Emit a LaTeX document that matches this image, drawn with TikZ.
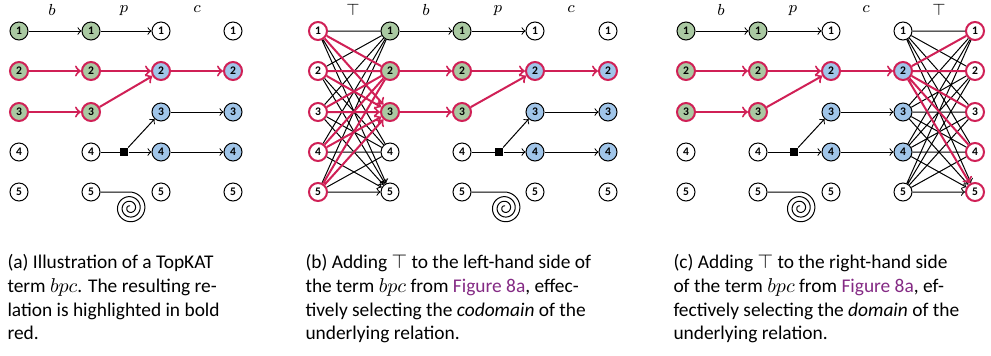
\documentclass[tikz,border=0pt]{standalone}
\usepackage{fontspec}
\setmainfont{Carlito}
\usepackage{xcolor}
\definecolor{bgreen}{RGB}{170,201,162}
\definecolor{cblue}{RGB}{160,197,233}
\definecolor{hired}{RGB}{208,32,86}
\definecolor{linkpurple}{RGB}{132,42,132}
\tikzset{every picture/.style={line width=0.5pt}}
\tikzset{
  st/.style={circle, draw, fill=white, line width=0.5pt, minimum size=9pt, inner sep=0pt, font=\fontsize{5.8}{6}\selectfont\bfseries},
  gst/.style={st, fill=bgreen},
  bst/.style={st, fill=cblue},
  hl/.style={draw=hired, line width=1pt},
  rel/.style={->, line width=0.5pt},
  hrel/.style={->, draw=hired, line width=1pt},
  sq/.style={rectangle, fill=black, minimum size=4pt, inner sep=0pt},
  lbl/.style={inner sep=0pt, font=\fontsize{8}{9}\selectfont},
  captext/.style={anchor=north west, align=left, inner sep=0pt, font=\fontsize{9.7}{11.85}\selectfont}
}
\begin{document}
\begin{tikzpicture}[x=0.5pt,y=0.5pt,yscale=-1,xscale=1]
\useasboundingbox (0,0) rectangle (991,355);

%%%%%%%% (a) %%%%%%%%
% Text Node
\draw (52,10) node [lbl] (a-lb) {$b$};
\draw (124,11) node [lbl] (a-lp) {$p$};
\draw (197,9) node [lbl] (a-lc) {$c$};
%Shape: Circle
\node [gst] (a0-1) at (19,31) {1};
\node [gst,hl] (a0-2) at (19,71) {2};
\node [gst,hl] (a0-3) at (19,112) {3};
\node [st] (a0-4) at (19,152) {4};
\node [st] (a0-5) at (19,192) {5};
%Shape: Circle
\node [gst] (a1-1) at (91,31) {1};
\node [gst,hl] (a1-2) at (91,71) {2};
\node [gst,hl] (a1-3) at (91,112) {3};
\node [st] (a1-4) at (91,152) {4};
\node [st] (a1-5) at (91,192) {5};
%Shape: Circle
\node [st] (a2-1) at (161,31) {1};
\node [bst,hl] (a2-2) at (161,71) {2};
\node [bst] (a2-3) at (161,112) {3};
\node [bst] (a2-4) at (161,152) {4};
\node [st] (a2-5) at (161,192) {5};
%Shape: Circle
\node [st] (a3-1) at (233,31) {1};
\node [bst,hl] (a3-2) at (233,71) {2};
\node [bst] (a3-3) at (233,112) {3};
\node [bst] (a3-4) at (233,152) {4};
\node [st] (a3-5) at (233,192) {5};
%Straight Lines
\draw [rel] (a0-1) -- (a1-1);
\draw [hrel] (a0-2) -- (a1-2);
\draw [hrel] (a0-3) -- (a1-3);
\draw [rel] (a1-1) -- (a2-1);
\draw [hrel] (a1-2) -- (a2-2);
\draw [hrel] (a1-3) -- (a2-2);
%Square
\node [sq] (a-sq) at (124,152) {};
\draw (a1-4) -- (a-sq);
\draw [rel] (a-sq) -- (a2-3);
\draw [rel] (a-sq) -- (a2-4);
%Spiral
\coordinate (a-sp) at (130,192);
\draw (a1-5) -- (a-sp) -- plot [domain=0:1080, samples=160, smooth] ({130+(16-14*\x/1080)*sin(\x)},{208-(16-14*\x/1080)*cos(\x)});
%Straight Lines
\draw [hrel] (a2-2) -- (a3-2);
\draw [rel] (a2-3) -- (a3-3);
\draw [rel] (a2-4) -- (a3-4);

%%%%%%%% (b) %%%%%%%%
% Text Node
\draw (353,10) node [lbl] (b-lt) {$\top$};
\draw (426,10) node [lbl] (b-lb) {$b$};
\draw (498,11) node [lbl] (b-lp) {$p$};
\draw (571,9) node [lbl] (b-lc) {$c$};
%Shape: Circle
\node [st,hl] (b0-1) at (318,31) {1};
\node [st,hl] (b0-2) at (318,71) {2};
\node [st,hl] (b0-3) at (318,112) {3};
\node [st,hl] (b0-4) at (318,152) {4};
\node [st,hl] (b0-5) at (318,192) {5};
%Shape: Circle
\node [gst] (b1-1) at (390,31) {1};
\node [gst,hl] (b1-2) at (390,71) {2};
\node [gst,hl] (b1-3) at (390,112) {3};
\node [st] (b1-4) at (390,152) {4};
\node [st] (b1-5) at (390,192) {5};
%Shape: Circle
\node [gst] (b2-1) at (462,31) {1};
\node [gst,hl] (b2-2) at (462,71) {2};
\node [gst,hl] (b2-3) at (462,112) {3};
\node [st] (b2-4) at (462,152) {4};
\node [st] (b2-5) at (462,192) {5};
%Shape: Circle
\node [st] (b3-1) at (535,31) {1};
\node [bst,hl] (b3-2) at (535,71) {2};
\node [bst] (b3-3) at (535,112) {3};
\node [bst] (b3-4) at (535,152) {4};
\node [st] (b3-5) at (535,192) {5};
%Shape: Circle
\node [st] (b4-1) at (608,31) {1};
\node [bst,hl] (b4-2) at (608,71) {2};
\node [bst] (b4-3) at (608,112) {3};
\node [bst] (b4-4) at (608,152) {4};
\node [st] (b4-5) at (608,192) {5};
%Straight Lines (top)
\draw [rel] (b0-1) -- (b1-1) (b0-1) -- (b1-4) (b0-1) -- (b1-5);
\draw [rel] (b0-2) -- (b1-1) (b0-2) -- (b1-4) (b0-2) -- (b1-5);
\draw [rel] (b0-3) -- (b1-1) (b0-3) -- (b1-4) (b0-3) -- (b1-5);
\draw [rel] (b0-4) -- (b1-1) (b0-4) -- (b1-4) (b0-4) -- (b1-5);
\draw [rel] (b0-5) -- (b1-1) (b0-5) -- (b1-4) (b0-5) -- (b1-5);
\draw [hrel] (b0-1) -- (b1-2) (b0-1) -- (b1-3);
\draw [hrel] (b0-2) -- (b1-2) (b0-2) -- (b1-3);
\draw [hrel] (b0-3) -- (b1-2) (b0-3) -- (b1-3);
\draw [hrel] (b0-4) -- (b1-2) (b0-4) -- (b1-3);
\draw [hrel] (b0-5) -- (b1-2) (b0-5) -- (b1-3);
%Straight Lines
\draw [rel] (b1-1) -- (b2-1);
\draw [hrel] (b1-2) -- (b2-2);
\draw [hrel] (b1-3) -- (b2-3);
\draw [rel] (b2-1) -- (b3-1);
\draw [hrel] (b2-2) -- (b3-2);
\draw [hrel] (b2-3) -- (b3-2);
%Square
\node [sq] (b-sq) at (499,152) {};
\draw (b2-4) -- (b-sq);
\draw [rel] (b-sq) -- (b3-3);
\draw [rel] (b-sq) -- (b3-4);
%Spiral
\coordinate (b-sp) at (505,192);
\draw (b2-5) -- (b-sp) -- plot [domain=0:1080, samples=160, smooth] ({505+(16-14*\x/1080)*sin(\x)},{208-(16-14*\x/1080)*cos(\x)});
%Straight Lines
\draw [hrel] (b3-2) -- (b4-2);
\draw [rel] (b3-3) -- (b4-3);
\draw [rel] (b3-4) -- (b4-4);

%%%%%%%% (c) %%%%%%%%
% Text Node
\draw (721,10) node [lbl] (c-lb) {$b$};
\draw (793,11) node [lbl] (c-lp) {$p$};
\draw (866,9) node [lbl] (c-lc) {$c$};
\draw (939,10) node [lbl] (c-lt) {$\top$};
%Shape: Circle
\node [gst] (c0-1) at (686,31) {1};
\node [gst,hl] (c0-2) at (686,71) {2};
\node [gst,hl] (c0-3) at (686,112) {3};
\node [st] (c0-4) at (686,152) {4};
\node [st] (c0-5) at (686,192) {5};
%Shape: Circle
\node [gst] (c1-1) at (758,31) {1};
\node [gst,hl] (c1-2) at (758,71) {2};
\node [gst,hl] (c1-3) at (758,112) {3};
\node [st] (c1-4) at (758,152) {4};
\node [st] (c1-5) at (758,192) {5};
%Shape: Circle
\node [st] (c2-1) at (831,31) {1};
\node [bst,hl] (c2-2) at (831,71) {2};
\node [bst] (c2-3) at (831,112) {3};
\node [bst] (c2-4) at (831,152) {4};
\node [st] (c2-5) at (831,192) {5};
%Shape: Circle
\node [st] (c3-1) at (903,31) {1};
\node [bst,hl] (c3-2) at (903,71) {2};
\node [bst] (c3-3) at (903,112) {3};
\node [bst] (c3-4) at (903,152) {4};
\node [st] (c3-5) at (903,192) {5};
%Shape: Circle
\node [st,hl] (c4-1) at (975,31) {1};
\node [st,hl] (c4-2) at (975,71) {2};
\node [st,hl] (c4-3) at (975,112) {3};
\node [st,hl] (c4-4) at (975,152) {4};
\node [st,hl] (c4-5) at (975,192) {5};
%Straight Lines
\draw [rel] (c0-1) -- (c1-1);
\draw [hrel] (c0-2) -- (c1-2);
\draw [hrel] (c0-3) -- (c1-3);
\draw [rel] (c1-1) -- (c2-1);
\draw [hrel] (c1-2) -- (c2-2);
\draw [hrel] (c1-3) -- (c2-2);
%Square
\node [sq] (c-sq) at (794,152) {};
\draw (c1-4) -- (c-sq);
\draw [rel] (c-sq) -- (c2-3);
\draw [rel] (c-sq) -- (c2-4);
%Spiral
\coordinate (c-sp) at (800,192);
\draw (c1-5) -- (c-sp) -- plot [domain=0:1080, samples=160, smooth] ({800+(16-14*\x/1080)*sin(\x)},{208-(16-14*\x/1080)*cos(\x)});
%Straight Lines
\draw [hrel] (c2-2) -- (c3-2);
\draw [rel] (c2-3) -- (c3-3);
\draw [rel] (c2-4) -- (c3-4);
%Straight Lines (top)
\draw [rel] (c3-1) -- (c4-1) (c3-1) -- (c4-2) (c3-1) -- (c4-3) (c3-1) -- (c4-4) (c3-1) -- (c4-5);
\draw [rel] (c3-3) -- (c4-1) (c3-3) -- (c4-2) (c3-3) -- (c4-3) (c3-3) -- (c4-4) (c3-3) -- (c4-5);
\draw [rel] (c3-4) -- (c4-1) (c3-4) -- (c4-2) (c3-4) -- (c4-3) (c3-4) -- (c4-4) (c3-4) -- (c4-5);
\draw [rel] (c3-5) -- (c4-1) (c3-5) -- (c4-2) (c3-5) -- (c4-3) (c3-5) -- (c4-4) (c3-5) -- (c4-5);
\draw [hrel] (c3-2) -- (c4-1) (c3-2) -- (c4-2) (c3-2) -- (c4-3) (c3-2) -- (c4-4) (c3-2) -- (c4-5);

%%%%%%%% captions %%%%%%%%
% Text Node
\draw (7,254) node [captext] (a-cap) {(a) Illustration of a TopKAT\\term $bpc$. The resulting re-\\lation is highlighted in bold\\red.};
% Text Node
\draw (305,254) node [captext] (b-cap) {(b) Adding $\top$ to the left-hand side of\\the term $bpc$ from \textcolor{linkpurple}{Figure 8a}, effec-\\tively selecting the \emph{codomain} of the\\underlying relation.};
% Text Node
\draw (673,254) node [captext] (c-cap) {(c) Adding $\top$ to the right-hand side\\of the term $bpc$ from \textcolor{linkpurple}{Figure 8a}, ef-\\fectively selecting the \emph{domain} of the\\underlying relation.};

\end{tikzpicture}
\end{document}
